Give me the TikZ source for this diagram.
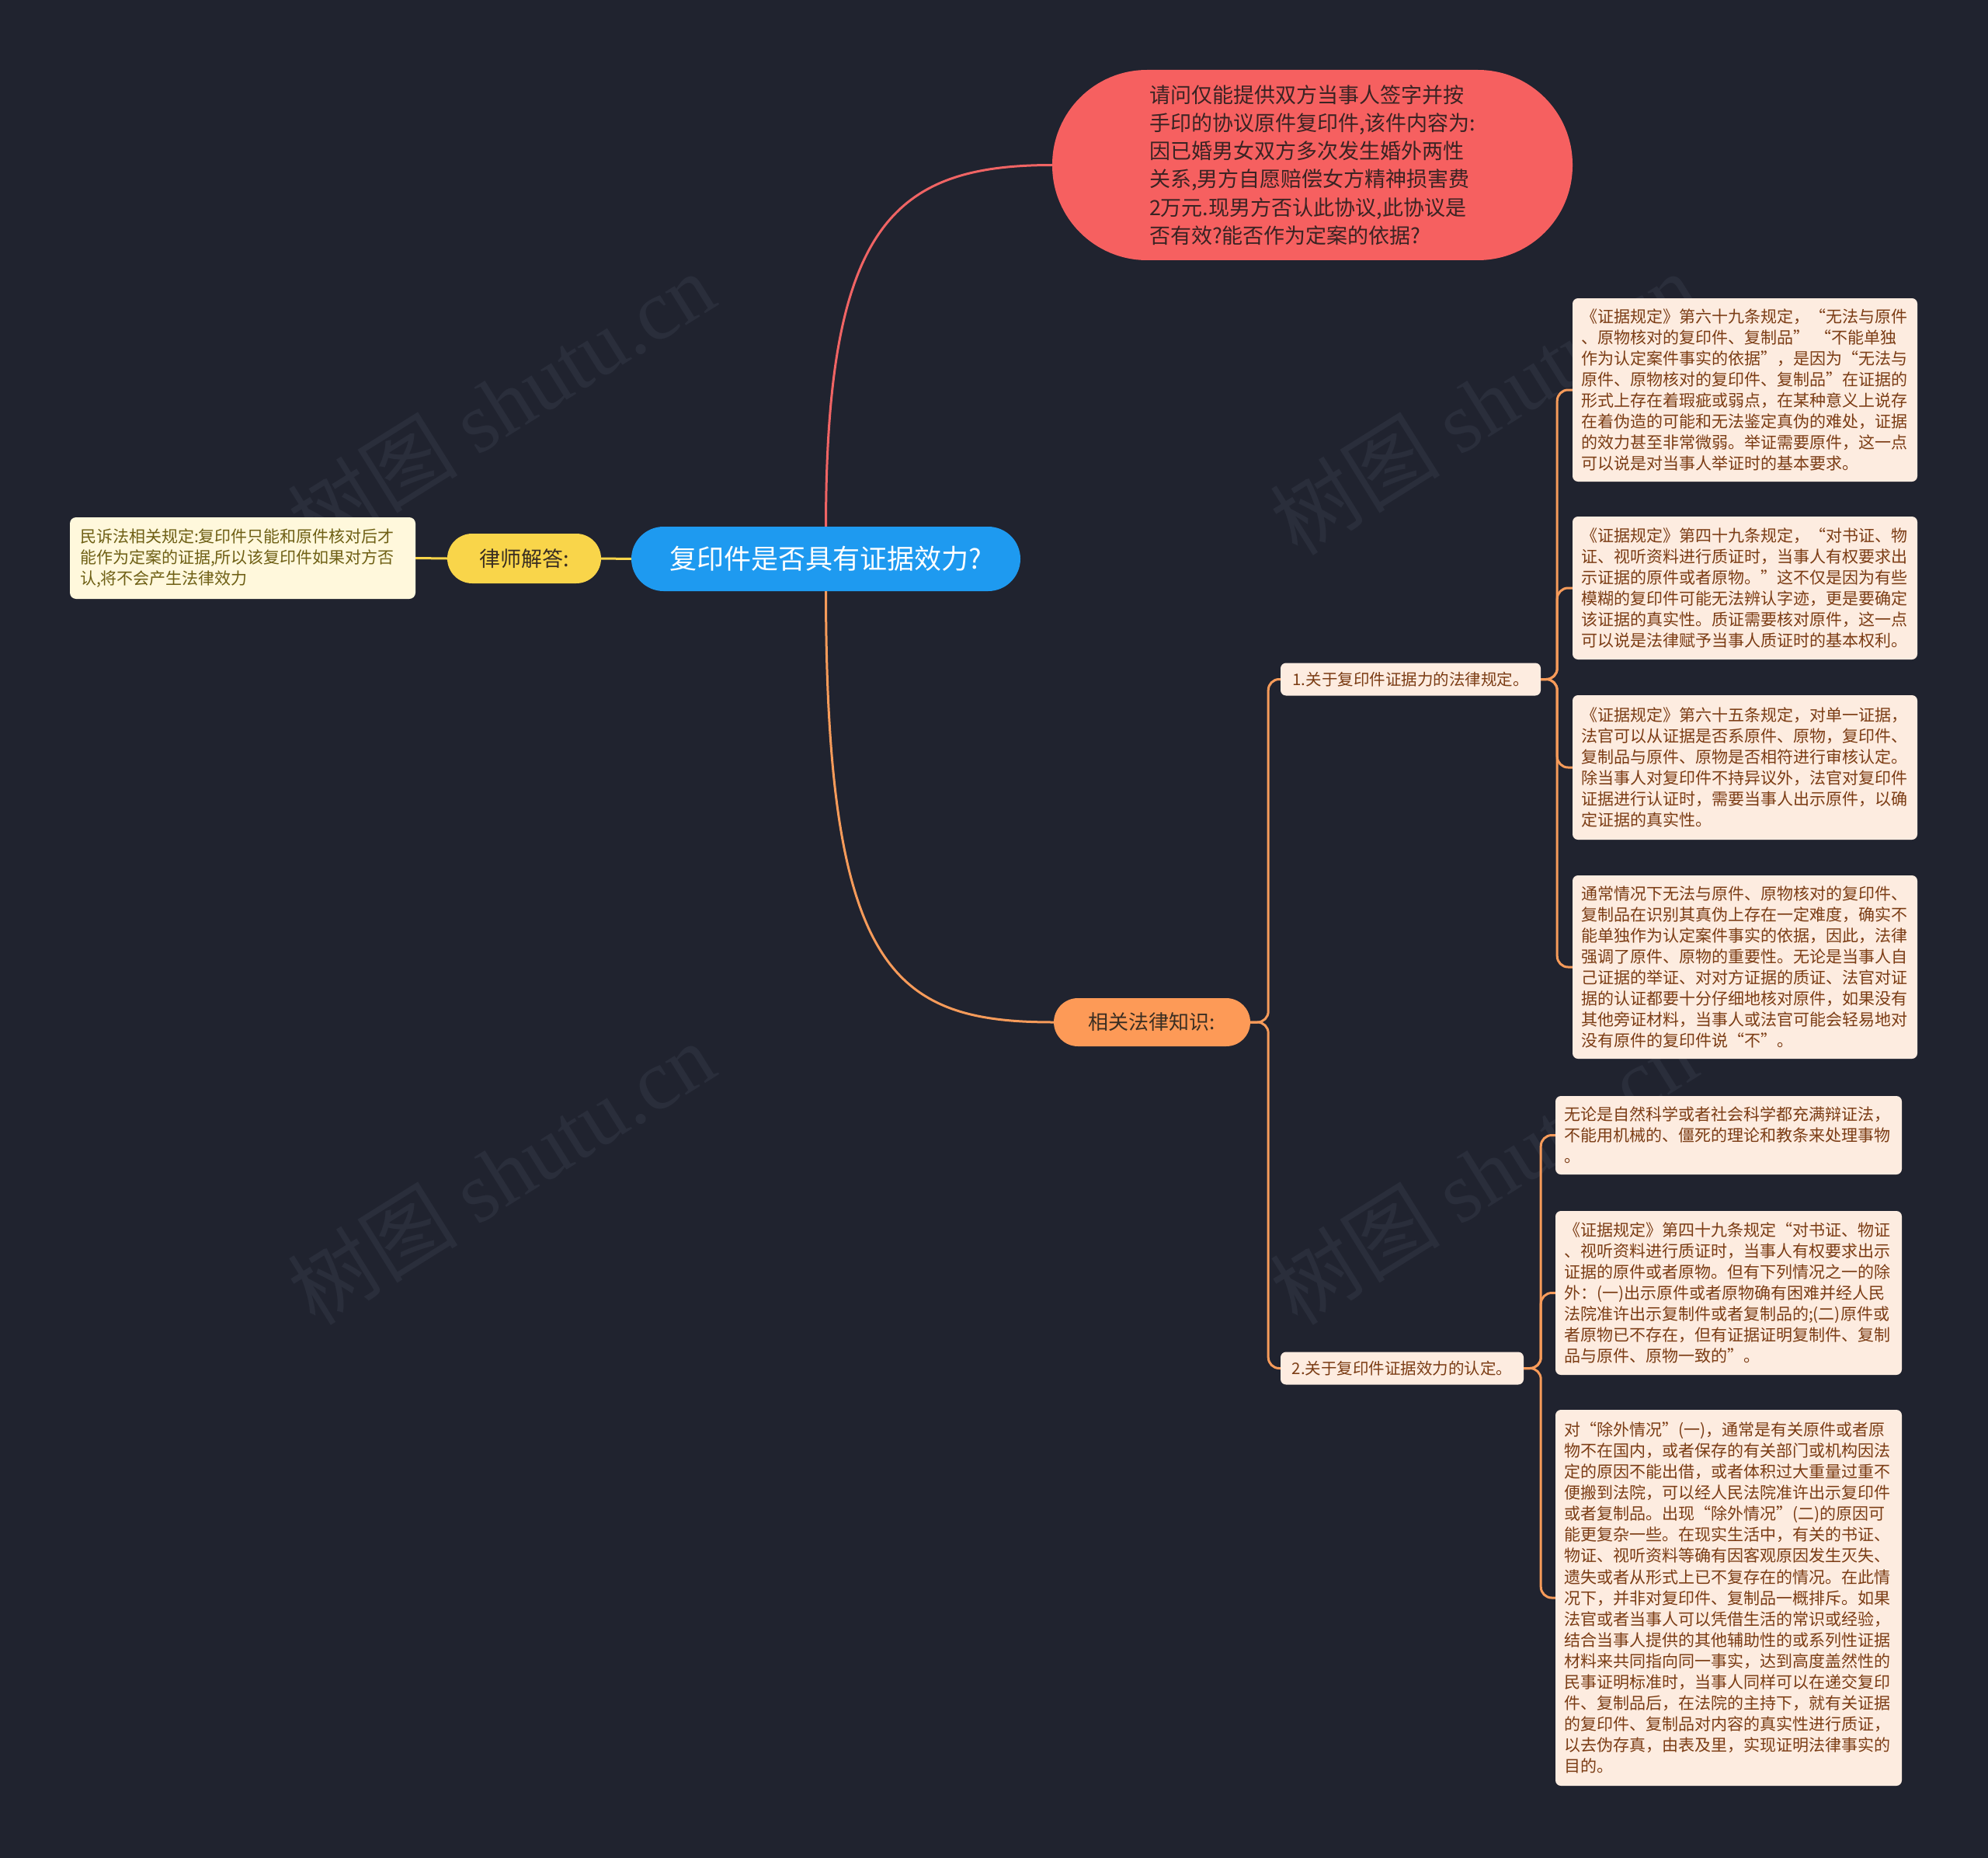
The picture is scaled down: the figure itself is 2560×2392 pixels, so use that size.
\documentclass[tikz,border=0pt]{standalone}
\usepackage{fontspec}
\setmainfont{Noto Sans CJK SC}
\newfontfamily\wmserif{Liberation Serif}
\definecolor{bgc}{HTML}{20232F}
\definecolor{cblue}{HTML}{1E9AF0}
\definecolor{cyellow}{HTML}{F9D54A}
\definecolor{ccream}{HTML}{FFF8DC}
\definecolor{colive}{HTML}{6E5F14}
\definecolor{cred}{HTML}{F66060}
\definecolor{credline}{HTML}{F06464}
\definecolor{credtext}{HTML}{3A2323}
\definecolor{corange}{HTML}{FD9A57}
\definecolor{corline}{HTML}{F79B5A}
\definecolor{cpeach}{HTML}{FDECE0}
\definecolor{cbrown}{HTML}{7B3C14}
\definecolor{cdark}{HTML}{3A2E22}
\definecolor{cwm}{HTML}{2A2E3B}
\tikzset{
  rootnode/.style={fill=cblue, text=white, rounded corners=41.5pt, minimum width=501pt, minimum height=83pt, inner sep=0pt, font=\fontsize{35pt}{42pt}\selectfont},
  lawnode/.style={fill=cyellow, text=cdark, rounded corners=32pt, minimum width=198pt, minimum height=64pt, inner sep=0pt, font=\fontsize{27pt}{32pt}\selectfont},
  ansnode/.style={fill=ccream, text=colive, rounded corners=8pt, text width=419pt, align=left, inner xsep=13pt, minimum height=105pt, inner ysep=6pt, font=\fontsize{21pt}{27pt}\selectfont},
  qnode/.style={fill=cred, text=credtext, rounded corners=122pt, minimum width=670pt, minimum height=245pt, inner sep=0pt, align=left, font=\fontsize{27pt}{36.3pt}\selectfont},
  relnode/.style={fill=corange, text=cdark, rounded corners=31pt, minimum width=253pt, minimum height=62pt, inner sep=0pt, font=\fontsize{26pt}{31pt}\selectfont},
  subnode/.style={fill=cpeach, text=cbrown, rounded corners=7pt, minimum height=42pt, inner xsep=11pt, inner ysep=0pt, font=\fontsize{20.5pt}{25pt}\selectfont},
  leafnode/.style={fill=cpeach, text=cbrown, rounded corners=7pt, text width=422pt, align=left, inner xsep=11pt, inner ysep=6pt, font=\fontsize{21pt}{27.1pt}\selectfont},
  oline/.style={draw=corline, line width=3pt},
  rline/.style={draw=credline, line width=3pt},
  yline/.style={draw=cyellow, line width=3pt},
  wm/.style={text=cwm, rotate=32, font=\fontsize{110pt}{120pt}\selectfont}
}
\begin{document}
\begin{tikzpicture}[x=1pt,y=-1pt]
\fill[bgc] (0,0) rectangle (2560,2392);
\useasboundingbox (0,0) rectangle (2560,2392);

% watermarks
\node[wm] (wm1) at (645,519) {树图 {\wmserif shutu.cn}};
\node[wm] (wm2) at (645,1510) {树图 {\wmserif shutu.cn}};
\node[wm] (wm3) at (1910,519) {树图 {\wmserif shutu.cn}};
\node[wm] (wm4) at (1910,1510) {树图 {\wmserif shutu.cn}};

% nodes
\node[rootnode] (root) at (1063.5,719.5) {复印件是否具有证据效力?};
\node[lawnode] (law) at (675,719) {律师解答:};
\node[ansnode] (ans) at (312.5,718.5) {民诉法相关规定:复印件只能和原件核对后才\\能作为定案的证据,所以该复印件如果对方否\\认,将不会产生法律效力};
\node[qnode] (q) at (1690,212.5) {请问仅能提供双方当事人签字并按\\手印的协议原件复印件,该件内容为:\\因已婚男女双方多次发生婚外两性\\关系,男方自愿赔偿女方精神损害费\\2万元.现男方否认此协议,此协议是\\否有效?能否作为定案的依据?};
\node[relnode] (rel) at (1483.5,1316) {相关法律知识:};
\node[subnode, minimum width=335pt] (s1) at (1816.5,874.5) {1.关于复印件证据力的法律规定。};
\node[subnode, minimum width=313pt] (s2) at (1805.5,1761.5) {2.关于复印件证据效力的认定。};

\node[leafnode, minimum height=236pt] (a1) at (2247,502) {《证据规定》第六十九条规定，“无法与原件\\、原物核对的复印件、复制品” “不能单独\\作为认定案件事实的依据”，是因为“无法与\\原件、原物核对的复印件、复制品”在证据的\\形式上存在着瑕疵或弱点，在某种意义上说存\\在着伪造的可能和无法鉴定真伪的难处，证据\\的效力甚至非常微弱。举证需要原件，这一点\\可以说是对当事人举证时的基本要求。};
\node[leafnode, minimum height=184pt] (a2) at (2247,757) {《证据规定》第四十九条规定，“对书证、物\\证、视听资料进行质证时，当事人有权要求出\\示证据的原件或者原物。”这不仅是因为有些\\模糊的复印件可能无法辨认字迹，更是要确定\\该证据的真实性。质证需要核对原件，这一点\\可以说是法律赋予当事人质证时的基本权利。};
\node[leafnode, minimum height=186pt] (a3) at (2247,988) {《证据规定》第六十五条规定，对单一证据，\\法官可以从证据是否系原件、原物，复印件、\\复制品与原件、原物是否相符进行审核认定。\\除当事人对复印件不持异议外，法官对复印件\\证据进行认证时，需要当事人出示原件，以确\\定证据的真实性。};
\node[leafnode, minimum height=236pt] (a4) at (2247,1245) {通常情况下无法与原件、原物核对的复印件、\\复制品在识别其真伪上存在一定难度，确实不\\能单独作为认定案件事实的依据，因此，法律\\强调了原件、原物的重要性。无论是当事人自\\己证据的举证、对对方证据的质证、法官对证\\据的认证都要十分仔细地核对原件，如果没有\\其他旁证材料，当事人或法官可能会轻易地对\\没有原件的复印件说“不”。};

\node[leafnode, text width=424pt, minimum height=101pt] (b1) at (2226,1461.5) {无论是自然科学或者社会科学都充满辩证法，\\不能用机械的、僵死的理论和教条来处理事物\\。};
\node[leafnode, text width=424pt, minimum height=211pt] (b2) at (2226,1664.5) {《证据规定》第四十九条规定“对书证、物证\\、视听资料进行质证时，当事人有权要求出示\\证据的原件或者原物。但有下列情况之一的除\\外：(一)出示原件或者原物确有困难并经人民\\法院准许出示复制件或者复制品的;(二)原件或\\者原物已不存在，但有证据证明复制件、复制\\品与原件、原物一致的”。};
\node[leafnode, text width=424pt, minimum height=484pt] (b3) at (2226,2057) {对“除外情况”(一)，通常是有关原件或者原\\物不在国内，或者保存的有关部门或机构因法\\定的原因不能出借，或者体积过大重量过重不\\便搬到法院，可以经人民法院准许出示复印件\\或者复制品。出现“除外情况”(二)的原因可\\能更复杂一些。在现实生活中，有关的书证、\\物证、视听资料等确有因客观原因发生灭失、\\遗失或者从形式上已不复存在的情况。在此情\\况下，并非对复印件、复制品一概排斥。如果\\法官或者当事人可以凭借生活的常识或经验，\\结合当事人提供的其他辅助性的或系列性证据\\材料来共同指向同一事实，达到高度盖然性的\\民事证明标准时，当事人同样可以在递交复印\\件、复制品后，在法院的主持下，就有关证据\\的复印件、复制品对内容的真实性进行质证，\\以去伪存真，由表及里，实现证明法律事实的\\目的。};

% connectors
\draw[rline] (root.north) .. controls (1064,290) and (1150,212.5) .. (q.west);
\draw[oline] (root.south) .. controls (1064,1250) and (1150,1316) .. (rel.west);
\draw[yline] (root.west) -- (law.east);
\draw[yline] (law.west) -- (ans.east);

\draw[oline, rounded corners=14pt] (rel.east) -- ++(23,0) |- (s1.west);
\draw[oline, rounded corners=14pt] (rel.east) -- ++(23,0) |- (s2.west);

\draw[oline, rounded corners=14pt] (s1.east) -- ++(21,0) |- (a1.west);
\draw[oline, rounded corners=14pt] (s1.east) -- ++(21,0) |- (a2.west);
\draw[oline, rounded corners=14pt] (s1.east) -- ++(21,0) |- (a3.west);
\draw[oline, rounded corners=14pt] (s1.east) -- ++(21,0) |- (a4.west);

\draw[oline, rounded corners=14pt] (s2.east) -- ++(22,0) |- (b1.west);
\draw[oline, rounded corners=14pt] (s2.east) -- ++(22,0) |- (b2.west);
\draw[oline, rounded corners=14pt] (s2.east) -- ++(22,0) |- (b3.west);
\end{tikzpicture}
\end{document}
